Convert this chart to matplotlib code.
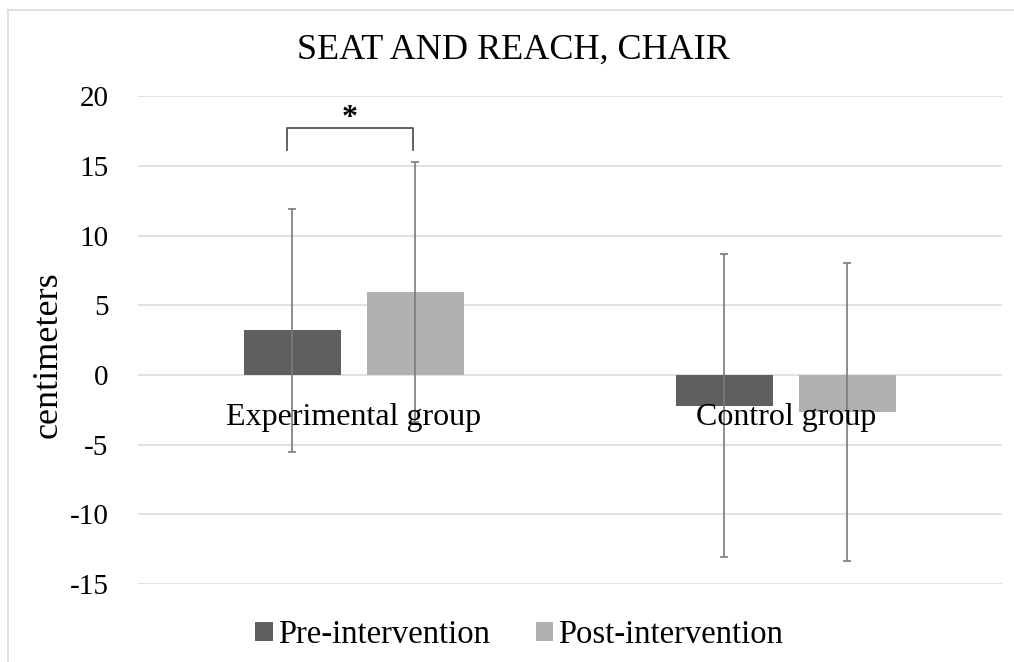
import numpy as np
import matplotlib
matplotlib.use("Agg")
import matplotlib.pyplot as plt
from matplotlib.lines import Line2D

plt.rcParams['font.family'] = ['Liberation Serif', 'DejaVu Serif']

groups = ['Experimental group', 'Control group']
series = ['Pre-intervention', 'Post-intervention']
pre_mean = [3.2, -2.2]
pre_sd = [8.7, 10.85]
post_mean = [5.95, -2.65]
post_sd = [9.3, 10.7]
colors = ['#5f5f5f', '#b0b0b0']
yticks = [-15, -10, -5, 0, 5, 10, 15, 20]

fig = plt.figure(figsize=(10.14, 6.62), dpi=100)
ax = fig.add_axes([0.136, 0.1178, 0.852, 0.737])

x = np.arange(len(groups))
w = 0.225
off = 0.1425
ax.bar(x - off, pre_mean, w, color=colors[0], label=series[0], zorder=2)
ax.bar(x + off, post_mean, w, color=colors[1], label=series[1], zorder=2)
ax.errorbar(x - off, pre_mean, yerr=pre_sd, fmt='none', ecolor='#7a7a7a',
            elinewidth=1.2, capsize=3, capthick=1.2, zorder=3)
ax.errorbar(x + off, post_mean, yerr=post_sd, fmt='none', ecolor='#7a7a7a',
            elinewidth=1.2, capsize=3, capthick=1.2, zorder=3)

ax.set_xlim(-0.5, 1.5)
ax.set_ylim(-15, 20)
ax.set_yticks(yticks)
ax.set_yticklabels([str(t) for t in yticks], fontsize=21)
ax.tick_params(axis='y', length=0, pad=21)
ax.set_xticks([])
ax.grid(axis='y', color='#d9d9d9', linewidth=1.1, zorder=0)
for s in ax.spines.values():
    s.set_visible(False)

# group names sit just under the zero line
for xi, name in zip(x, groups):
    ax.annotate(name, (xi, 0), xytext=(0, -36), textcoords='offset points',
                ha='center', va='baseline', fontsize=23, zorder=4)

ax.set_ylabel('centimeters', fontsize=26, va='center')
ax.yaxis.set_label_coords(-0.104, 0.471)

# significance bracket over the experimental group
bx0, bx1 = -0.155, 0.137
ax.plot([bx0, bx0, bx1, bx1], [16.1, 17.7, 17.7, 16.1], color='#555555',
        linewidth=1.3, solid_joinstyle='round', zorder=3)
ax.text((bx0 + bx1) / 2, 18.4, '*', ha='center', va='center', fontsize=23,
        fontweight='bold')

fig.text(0.506, 0.912, 'SEAT AND REACH, CHAIR', ha='center', va='baseline',
         fontsize=26)

fig.legend(loc='center', bbox_to_anchor=(0.512, 0.041), ncol=2, frameon=False,
           fontsize=23.5, handlelength=0.55, handleheight=0.55,
           handletextpad=0.15, columnspacing=1.4)

# chart border
fig.add_artist(Line2D([8 / 1014, 8 / 1014], [0, 1 - 10 / 662],
                      transform=fig.transFigure, color='#d9d9d9', linewidth=1.2))
fig.add_artist(Line2D([8 / 1014, 1], [1 - 10 / 662, 1 - 10 / 662],
                      transform=fig.transFigure, color='#d9d9d9', linewidth=1.2))

fig.savefig('out.png', dpi=100)
